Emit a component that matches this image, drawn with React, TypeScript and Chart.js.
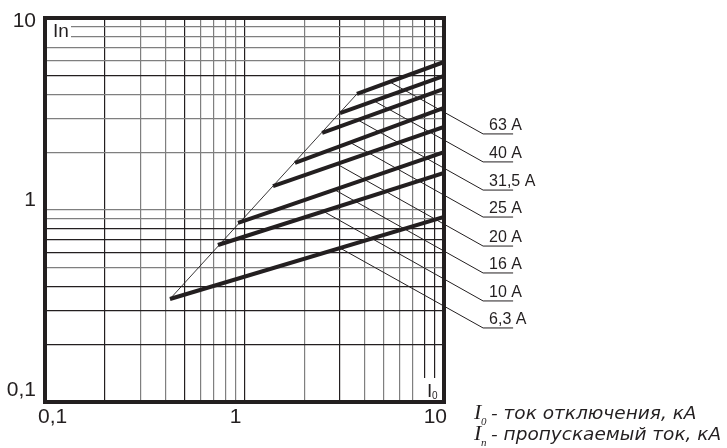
import React, { useEffect, useRef } from 'react';
import { Chart, registerables } from 'chart.js';

Chart.register(...registerables);

// Rated currents of the fuses (label of each curve)
const ratings = ['63 A', '40 A', '31,5 A', '25 A', '20 A', '16 A', '10 A', '6,3 A'];
// Start point of each curve (on the thin limiting line), I0 and In in kA
const startI0 = [3.66, 3.01, 2.45, 1.79, 1.39, 0.928, 0.736, 0.423];
const startIn = [4.02, 3.2, 2.52, 1.76, 1.33, 0.856, 0.657, 0.344];
// End point of each curve, at I0 = 10 kA
const endI0 = 10;
const endIn = [5.9, 4.99, 4.27, 3.4, 2.71, 2.0, 1.56, 0.92];
// Where each label leader line leaves its curve
const leaderI0 = [5.36, 4.46, 3.71, 3.38, 2.89, 2.81, 2.47, 3.01];
const leaderIn = [4.64, 3.7, 2.94, 2.25, 1.74, 1.28, 0.988, 0.634];
// Label anchors (underline) outside the plot, in the same log coordinates
const labelIn = [2.49, 1.78, 1.27, 0.919, 0.649, 0.47, 0.336, 0.243];
const labelI0Start = 15.7;
const labelI0End = 22.2;

// Axis grid & tick labels
const gridTicks = [0.1, 0.2, 0.3, 0.4, 0.5, 0.6, 0.7, 0.8, 0.9, 1, 2, 3, 4, 5, 6, 7, 8, 9, 10];
const labelTicks = [0.1, 1, 10];
const labelTexts = ['0,1', '1', '10'];
const darkX = [0.2, 0.5, 1, 3, 8, 9];
const darkY = [5, 0.8, 0.7, 0.6, 0.4, 0.3, 0.2];

const legendLines = ['- ток отключения, кА', '- пропускаемый ток, кА'];
const legendSubs = ['0', 'п'];

const INK = '#231f20';
const GREY = '#7f7f7f';

const isIn = (arr: number[], v: number) => arr.some((a) => Math.abs(a - v) < 1e-6);

export default function App() {
  const ref = useRef<HTMLCanvasElement | null>(null);

  useEffect(() => {
    if (!ref.current) return;
    const datasets: any[] = [];
    // thin limiting diagonal line
    datasets.push({
      data: [
        { x: startI0[startI0.length - 1], y: startIn[startIn.length - 1] },
        { x: startI0[0], y: startIn[0] },
      ],
      borderColor: INK,
      borderWidth: 0.9,
      pointRadius: 0,
      order: 2,
    });
    // leader lines with underlines (listed from the label end so every point is kept)
    ratings.forEach((_, i) => {
      datasets.push({
        data: [
          { x: labelI0End, y: labelIn[i] },
          { x: labelI0Start, y: labelIn[i] },
          { x: leaderI0[i], y: leaderIn[i] },
        ],
        borderColor: INK,
        borderWidth: 1,
        pointRadius: 0,
        clip: false,
        order: 2,
      });
    });
    // thick characteristic lines
    ratings.forEach((_, i) => {
      datasets.push({
        data: [
          { x: startI0[i], y: startIn[i] },
          { x: endI0, y: endIn[i] },
        ],
        borderColor: INK,
        borderWidth: 4,
        pointRadius: 0,
        order: 0,
      });
    });

    const decor = {
      id: 'decor',
      afterDraw(chart: any) {
        const { ctx, chartArea: a, scales } = chart;
        const xs = scales.x;
        const ys = scales.y;
        ctx.save();
        // cut-outs for the axis names inside the plot
        ctx.fillStyle = '#ffffff';
        ctx.fillRect(a.left + 2, a.top + 2, 71 - a.left - 2, 44 - a.top - 2);
        ctx.fillRect(419, 378, a.right - 2 - 419, a.bottom - 2 - 378);
        ctx.fillStyle = INK;
        ctx.textBaseline = 'alphabetic';
        ctx.textAlign = 'left';
        ctx.font = '19px "Liberation Sans", Arial, sans-serif';
        ctx.fillText('In', a.left + 8, a.top + 19);
        ctx.fillText('I', 427, a.bottom - 5);
        ctx.font = '10px "Liberation Sans", Arial, sans-serif';
        ctx.fillText('0', 432, a.bottom - 3);

        // border
        ctx.strokeStyle = INK;
        ctx.lineWidth = 4;
        ctx.strokeRect(a.left, a.top, a.right - a.left, a.bottom - a.top);

        // tick labels
        ctx.font = '21px "Liberation Sans", Arial, sans-serif';
        ctx.fillStyle = INK;
        labelTicks.forEach((v, i) => {
          const py = ys.getPixelForValue(v);
          const off = i === 0 ? -12 : i === 1 ? -10 : 3;
          ctx.textAlign = 'right';
          ctx.textBaseline = 'middle';
          ctx.fillText(labelTexts[i], 36, py + off);
          const px = xs.getPixelForValue(v);
          ctx.textAlign = i === 0 ? 'left' : i === 1 ? 'center' : 'right';
          const xoff = i === 0 ? -7 : i === 1 ? -9 : 3;
          ctx.fillText(labelTexts[i], px + xoff, a.bottom + 15);
        });

        // rating labels
        ctx.font = '16px "Liberation Sans", Arial, sans-serif';
        ctx.textAlign = 'left';
        ctx.textBaseline = 'alphabetic';
        ratings.forEach((r, i) => {
          const px = xs.getPixelForValue(labelI0Start) + 6;
          const py = ys.getPixelForValue(labelIn[i]) - 4;
          ctx.fillText(r, px, py);
        });

        // legend
        legendLines.forEach((t, i) => {
          const base = 419 + i * 21;
          ctx.font = 'italic 22px "Liberation Serif", "Times New Roman", serif';
          ctx.fillText('I', 474, base);
          ctx.font = 'italic 11px "Liberation Serif", "Times New Roman", serif';
          ctx.fillText(legendSubs[i], 481, base + 6);
          ctx.font = 'italic 18.5px "DejaVu Sans", Verdana, sans-serif';
          ctx.fillText(t, 491, base);
        });
        ctx.restore();
      },
    };

    const gridColor = (dark: number[]) => (c: any) =>
      c.tick && isIn(dark, c.tick.value) ? INK : GREY;

    const chart = new Chart(ref.current, {
      type: 'line',
      data: { datasets },
      options: {
        animation: false,
        responsive: false,
        devicePixelRatio: 1,
        events: [],
        layout: { padding: { left: 45, top: 18, right: 283, bottom: 46 } },
        plugins: { legend: { display: false }, tooltip: { enabled: false } },
        scales: {
          x: {
            type: 'logarithmic',
            min: 0.1,
            max: 10,
            afterBuildTicks: (s: any) => {
              s.ticks = gridTicks.map((v) => ({ value: v }));
            },
            afterFit: (s: any) => {
              s.height = 0;
            },
            ticks: { display: false },
            border: { display: false },
            grid: { drawTicks: false, color: gridColor(darkX), lineWidth: 1.2 },
          },
          y: {
            type: 'logarithmic',
            min: 0.1,
            max: 10,
            afterBuildTicks: (s: any) => {
              s.ticks = gridTicks.map((v) => ({ value: v }));
            },
            afterFit: (s: any) => {
              s.width = 0;
            },
            ticks: { display: false },
            border: { display: false },
            grid: { drawTicks: false, color: gridColor(darkY), lineWidth: 1.2 },
          },
        },
      },
      plugins: [decor],
    });
    return () => chart.destroy();
  }, []);

  return (
    <div style={{ position: 'absolute', left: 0, top: 0, width: 727, height: 448, background: '#fff' }}>
      <canvas ref={ref} width={727} height={448} style={{ width: 727, height: 448, display: 'block' }} />
    </div>
  );
}
